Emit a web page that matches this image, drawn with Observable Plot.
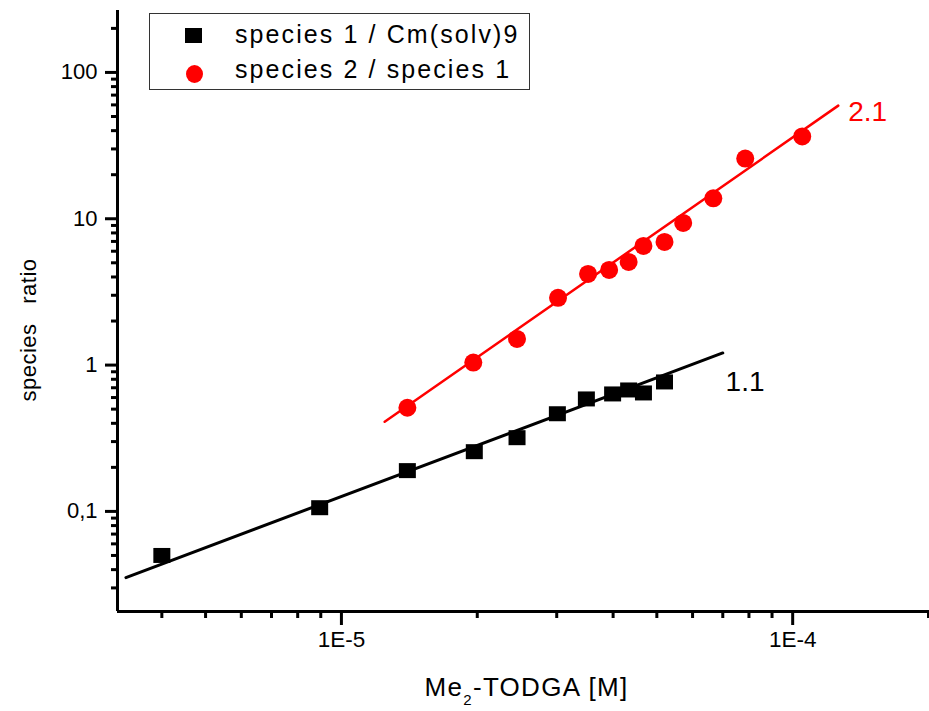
<!DOCTYPE html>
<html>
<head>
<meta charset="utf-8">
<script src="https://cdn.jsdelivr.net/npm/d3@7"></script>
<script src="https://cdn.jsdelivr.net/npm/@observablehq/plot@0.6"></script>
<style>
  body { margin: 0; background: white; font-family: "Liberation Sans", Arial, sans-serif; }
  #wrap { position: relative; width: 929px; height: 711px; }
  #legend { position: absolute; left: 149px; top: 13px; width: 381px; height: 77px;
            border: 1px solid #333; background: white; box-sizing: border-box; }
  .li { position: absolute; left: 85px; font-size: 25px; letter-spacing: 2.1px; color: black; line-height: 1; white-space: nowrap; }
  .sym { position: absolute; }
</style>
</head>
<body>
<div id="wrap">
  <div id="chart"></div>
  <div id="legend">
    <div class="sym" style="left:35px;top:14px;width:17px;height:15px;background:black;"></div>
    <div class="li" id="leg0" style="top:8px;"></div>
    <div class="sym" style="left:36px;top:51px;width:17px;height:18px;background:red;border-radius:50%;"></div>
    <div class="li" id="leg1" style="top:43px;"></div>
  </div>
</div>
<script>
// ---- data ----
const xBlack = [4.0e-6, 8.95e-6, 1.4e-5, 1.97e-5, 2.45e-5, 3.01e-5, 3.49e-5, 3.99e-5, 4.33e-5, 4.67e-5, 5.2e-5];
const yBlack = [0.05, 0.106, 0.19, 0.256, 0.319, 0.465, 0.587, 0.635, 0.676, 0.645, 0.767];
const xRed = [1.4e-5, 1.96e-5, 2.45e-5, 3.02e-5, 3.52e-5, 3.92e-5, 4.33e-5, 4.67e-5, 5.2e-5, 5.72e-5, 6.67e-5, 7.85e-5, 1.05e-4];
const yRed = [0.511, 1.04, 1.51, 2.88, 4.2, 4.47, 5.07, 6.52, 6.94, 9.36, 13.8, 25.8, 36.5];
const fit1X = [3.33e-6, 7.0e-5];
const fit1Y = [0.0353, 1.21];
const fit2X = [1.247e-5, 1.262e-4];
const fit2Y = [0.41, 59.3];
const slopeText = ["1.1", "2.1"];
const slopeX = [7.1e-5, 1.327e-4];
const slopeY = [0.77, 54];
const slopeColor = ["black", "red"];
const seriesNames = ["species 1 / Cm(solv)9", "species 2 / species 1"];

const xDomain = [3.19e-6, 2.01e-4];
const yDomain = [0.0207, 265];
const xMajor = [1e-5, 1e-4];
const xMajorLabels = ["1E-5", "1E-4"];
const xMinor = [4e-6, 5e-6, 6e-6, 7e-6, 8e-6, 9e-6, 2e-5, 3e-5, 4e-5, 5e-5, 6e-5, 7e-5, 8e-5, 9e-5, 2e-4];
const yMajor = [0.1, 1, 10, 100];
const yMajorLabels = ["0,1", "1", "10", "100"];
const yMinor = [0.03, 0.04, 0.05, 0.06, 0.07, 0.08, 0.09, 0.2, 0.3, 0.4, 0.5, 0.6, 0.7, 0.8, 0.9,
                2, 3, 4, 5, 6, 7, 8, 9, 20, 30, 40, 50, 60, 70, 80, 90, 200];
const xTitle = "Me2-TODGA [M]";
const yTitle = "species ratio";

// ---- tables ----
const black = xBlack.map((x, i) => ({x, y: yBlack[i]}));
const red = xRed.map((x, i) => ({x, y: yRed[i]}));
const fit1 = fit1X.map((x, i) => ({x, y: fit1Y[i]}));
const fit2 = fit2X.map((x, i) => ({x, y: fit2Y[i]}));
const slopes = slopeText.map((t, i) => ({t, x: slopeX[i], y: slopeY[i], c: slopeColor[i]}));

document.getElementById("leg0").textContent = seriesNames[0];
document.getElementById("leg1").textContent = seriesNames[1];

const rectSymbol = { draw(ctx) { ctx.rect(-8.5, -7.5, 17, 15); } };

const chart = Plot.plot({
  width: 929,
  height: 711,
  marginLeft: 117,
  marginRight: 0,
  marginTop: 10,
  marginBottom: 100,
  style: { fontFamily: "'Liberation Sans', Arial, sans-serif", background: "white", color: "black" },
  x: { type: "log", domain: xDomain, label: null },
  y: { type: "log", domain: yDomain, label: null },
  marks: [
    Plot.axisX(xMinor, { anchor: "bottom", tickSize: 7, tickFormat: () => "", strokeWidth: 3, color: "black", label: null }),
    Plot.axisX(xMajor, { anchor: "bottom", tickSize: 14, tickPadding: 6, tickFormat: d => xMajorLabels[xMajor.indexOf(d)], fontSize: 22.5, strokeWidth: 3, color: "black", label: null }),
    Plot.axisY(yMinor, { anchor: "left", tickSize: 6, tickFormat: () => "", strokeWidth: 3, color: "black", label: null }),
    Plot.axisY(yMajor, { anchor: "left", tickSize: 12, tickPadding: 8, tickFormat: d => yMajorLabels[yMajor.indexOf(d)], fontSize: 22, strokeWidth: 3, color: "black", label: null }),
    Plot.ruleX([xDomain[0]], { stroke: "black", strokeWidth: 3 }),
    Plot.ruleY([yDomain[0]], { stroke: "black", strokeWidth: 3 }),
    Plot.line(fit1, { x: "x", y: "y", stroke: "black", strokeWidth: 3 }),
    Plot.line(fit2, { x: "x", y: "y", stroke: "red", strokeWidth: 2.5 }),
    Plot.dot(black, { x: "x", y: "y", symbol: rectSymbol, fill: "black", stroke: "none", r: 9 }),
    Plot.dot(red, { x: "x", y: "y", symbol: "circle", fill: "red", stroke: "none", r: 9 }),
    Plot.text(slopes, { x: "x", y: "y", text: "t", fill: "c", textAnchor: "start", fontSize: 28 }),
    Plot.text([yTitle], { frameAnchor: "left", textAnchor: "middle", lineAnchor: "middle", dx: -89, dy: 19, rotate: -90, fontSize: 22, fill: "black" }),
    Plot.text([xTitle], { frameAnchor: "bottom", textAnchor: "middle", lineAnchor: "middle", dx: 3, dy: 76.5, fontSize: 26, fill: "black" })
  ]
});

document.getElementById("chart").appendChild(chart);

// subscript and letter spacing
const svg = d3.select(chart);
svg.selectAll("text").filter(function () { return this.textContent === xTitle; })
  .each(function () {
    const t = d3.select(this);
    t.text(null).style("letter-spacing", "1.3px");
    t.append("tspan").text("Me");
    t.append("tspan").attr("dy", 9).attr("font-size", 15).text("2");
    t.append("tspan").attr("dy", -9).text("-TODGA [M]");
  });
svg.selectAll("text").filter(function () { return this.textContent === yTitle; })
  .style("letter-spacing", "0.5px").style("word-spacing", "13px");
</script>
</body>
</html>
